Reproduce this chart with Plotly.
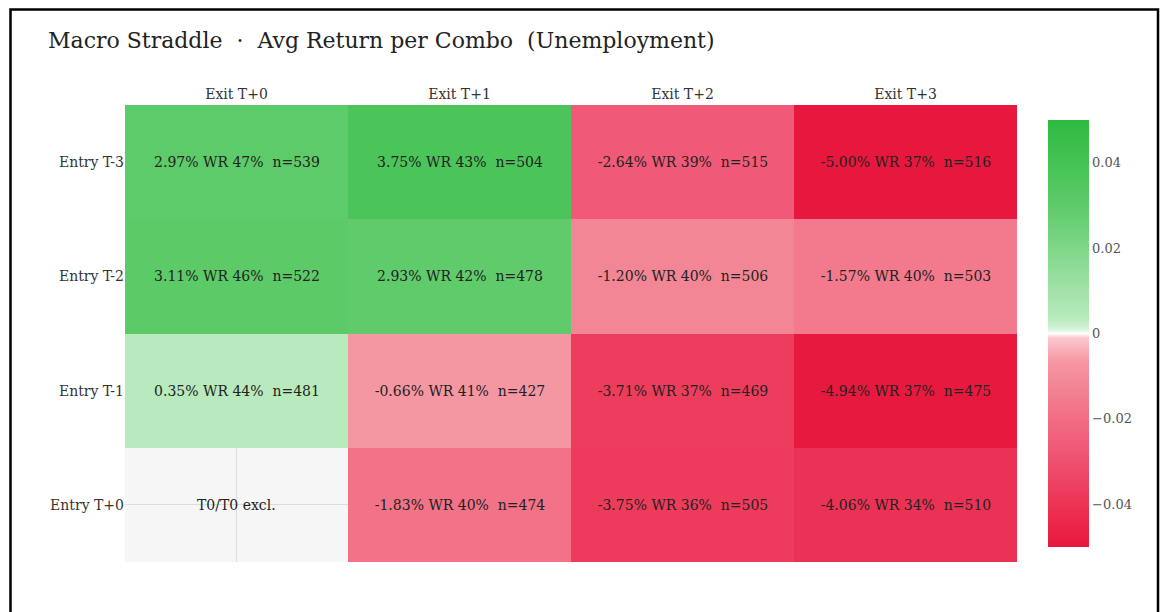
import plotly.graph_objects as go

entries = ["Entry T-3", "Entry T-2", "Entry T-1", "Entry T+0"]
exits = ["Exit T+0", "Exit T+1", "Exit T+2", "Exit T+3"]

avg_return = [
    [0.0297, 0.0375, -0.0264, -0.0500],
    [0.0311, 0.0293, -0.0120, -0.0157],
    [0.0035, -0.0066, -0.0371, -0.0494],
    [None, -0.0183, -0.0375, -0.0406],
]
win_rate = [
    [47, 43, 39, 37],
    [46, 42, 40, 40],
    [44, 41, 37, 37],
    [None, 40, 36, 34],
]
counts = [
    [539, 504, 515, 516],
    [522, 478, 506, 503],
    [481, 427, 469, 475],
    [None, 474, 505, 510],
]
excluded_label = "T0/T0 excl."
colorbar_ticks = [-0.04, -0.02, 0, 0.02, 0.04]

FONT = "DejaVu Serif"

W, H = 1152, 604
L, R, T, B = 117, 143, 97, 50
PW, PH = W - L - R, H - T - B

text = []
for r in range(len(entries)):
    row = []
    for c in range(len(exits)):
        v = avg_return[r][c]
        if v is None:
            row.append("")
        else:
            row.append(f"{v*100:.2f}% WR {win_rate[r][c]}%  n={counts[r][c]}")
    text.append(row)

colorscale = [
    [0.0, "#e8173d"],
    [0.129, "#ee3c5c"],
    [0.236, "#f05a78"],
    [0.343, "#f27a8c"],
    [0.434, "#f597a3"],
    [0.49, "#fbc8d0"],
    [0.5, "#ffffff"],
    [0.51, "#d6f4d8"],
    [0.535, "#b8eabd"],
    [0.797, "#5ecb6a"],
    [0.875, "#4bc55a"],
    [1.0, "#2dbb40"],
]

fig = go.Figure(
    go.Heatmap(
        z=avg_return,
        x=exits,
        y=entries,
        text=text,
        texttemplate="%{text}",
        textfont=dict(family=FONT, size=14, color="#222222"),
        colorscale=colorscale,
        zmin=-0.05,
        zmax=0.05,
        zmid=0,
        hoverongaps=False,
        colorbar=dict(
            x=(1040 - L) / PW,
            xanchor="left",
            xpad=0,
            ypad=0,
            y=0.5,
            yanchor="middle",
            len=427,
            lenmode="pixels",
            thickness=41,
            outlinewidth=0,
            tickvals=colorbar_ticks,
            tickfont=dict(family=FONT, size=13, color="#555555"),
        ),
    )
)

fig.add_annotation(
    x=exits[0], y=entries[3], text=excluded_label, showarrow=False,
    font=dict(family=FONT, size=14, color="#222222"),
)

# outer frame
fig.add_shape(
    type="rect", xref="paper", yref="paper",
    x0=(2.5 - L) / PW, x1=(1150 - L) / PW,
    y0=(T + PH - 680) / PH, y1=(T + PH - 1.5) / PH,
    line=dict(color="black", width=2.5), layer="above",
)

fig.update_layout(
    width=W,
    height=H,
    margin=dict(l=L, r=R, t=T, b=B),
    paper_bgcolor="white",
    plot_bgcolor="#f6f6f6",
    title=dict(
        text="Macro Straddle  ·  Avg Return per Combo  (Unemployment)",
        x=40 / W, xanchor="left",
        y=1 - 32 / H, yanchor="middle", yref="container",
        font=dict(family=FONT, size=22, color="#222222"),
    ),
    font=dict(family=FONT, color="#333333"),
    xaxis=dict(side="top", showgrid=True, gridcolor="#dddddd", zeroline=False,
               ticklabelstandoff=2,
               tickfont=dict(family=FONT, size=14, color="#333333")),
    yaxis=dict(autorange="reversed", showgrid=True, gridcolor="#dddddd", zeroline=False,
               tickfont=dict(family=FONT, size=14, color="#333333")),
)

fig.write_html("out.html")
